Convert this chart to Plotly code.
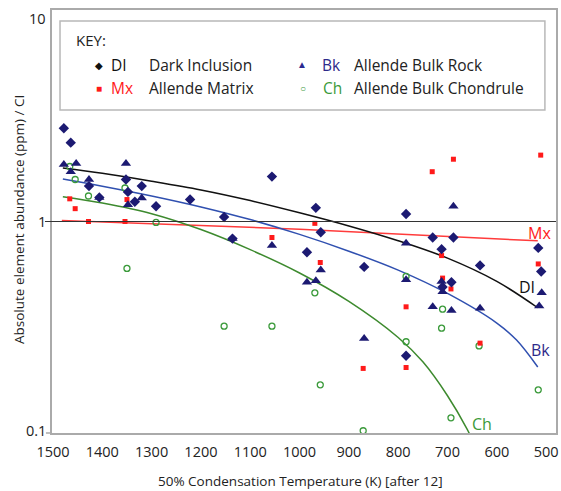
import plotly.graph_objects as go
import math

# ---------------- data ----------------
# Dark Inclusion (DI)
di_T = [1478, 1464, 1427, 1406, 1352, 1348, 1334, 1320, 1291, 1222, 1153, 1136, 1056,
        985, 967, 957, 869, 784, 784, 730, 712, 710, 692, 688, 634, 516, 510]
di_v = [2.76, 2.36, 1.47, 1.30, 1.58, 1.38, 1.24, 1.47, 1.18, 1.27, 1.05, 0.83, 1.63,
        0.715, 1.16, 0.89, 0.61, 1.085, 0.232, 0.84, 0.74, 0.49, 0.516, 0.84, 0.62, 0.75, 0.58]

# Allende Bulk Rock (Bk)
bk_T = [1478, 1453, 1464, 1427, 1406, 1352, 1348, 1320, 1136, 1056, 985, 967, 957, 869,
        784, 784, 730, 712, 710, 692, 688, 634, 514, 509]
bk_v = [1.86, 1.88, 1.72, 1.58, 1.30, 1.88, 1.20, 1.29, 0.83, 0.77, 0.516, 0.525, 0.59, 0.28,
        0.79, 0.53, 0.395, 0.52, 0.466, 0.379, 1.18, 0.389, 0.398, 0.46]

# Allende Matrix (Mx)
mx_T = [1466, 1455, 1428, 1354, 1350, 1056, 969, 958, 871, 784, 784, 731, 712, 710, 693,
        688, 634, 516, 511]
mx_v = [1.28, 1.15, 1.0, 1.0, 1.27, 0.84, 0.98, 0.64, 0.202, 0.395, 0.204, 1.72, 0.69, 0.54,
        0.48, 1.97, 0.266, 0.63, 2.06]

# Allende Bulk Chondrule (Ch)
ch_T = [1466, 1455, 1428, 1354, 1291, 1350, 1153, 1056, 969, 958, 871, 784, 784, 712, 710,
        693, 636, 516]
ch_v = [1.82, 1.58, 1.32, 1.44, 0.99, 0.60, 0.32, 0.32, 0.46, 0.169, 0.1025, 0.55, 0.27,
        0.313, 0.385, 0.118, 0.258, 0.16]

# Trend curves
di_fit_T = [1480, 1400, 1300, 1200, 1100, 1000, 900, 800, 700, 600, 517]
di_fit_v = [1.79, 1.69, 1.55, 1.41, 1.256, 1.10, 0.953, 0.811, 0.671, 0.521, 0.391]
bk_fit_T = [1480, 1400, 1300, 1200, 1100, 1000, 900, 800, 700, 600, 560, 517]
bk_fit_v = [1.589, 1.469, 1.321, 1.172, 1.021, 0.869, 0.724, 0.589, 0.457, 0.331, 0.275, 0.205]
ch_fit_T = [1480, 1400, 1300, 1200, 1100, 1000, 900, 800, 750, 700, 660, 640]
ch_fit_v = [1.309, 1.222, 1.089, 0.916, 0.736, 0.571, 0.419, 0.283, 0.217, 0.150, 0.104, 0.083]
mx_fit_T = [1482, 1000, 517]
mx_fit_v = [1.01, 0.92, 0.81]

x_ticks = [1500, 1400, 1300, 1200, 1100, 1000, 900, 800, 700, 600, 500]
y_tick_vals = [10, 1, 0.1]
y_tick_text = ["10", "1", "0.1"]

x_title = "50% Condensation Temperature (K) [after 12]"
y_title = "Absolute element abundance (ppm) / CI"

NAVY = "#1c1a72"
RED = "#ff1a1a"
GREEN = "#3a9a3a"
FONT = "Open Sans"

fig = go.Figure()

# curves
fig.add_trace(go.Scatter(x=mx_fit_T, y=mx_fit_v, mode="lines", line=dict(color="#ff3b3b", width=1.5, shape="spline")))
fig.add_trace(go.Scatter(x=ch_fit_T, y=ch_fit_v, mode="lines", line=dict(color="#3d8a2e", width=1.5, shape="spline")))
fig.add_trace(go.Scatter(x=bk_fit_T, y=bk_fit_v, mode="lines", line=dict(color="#3050b0", width=1.5, shape="spline")))
fig.add_trace(go.Scatter(x=di_fit_T, y=di_fit_v, mode="lines", line=dict(color="#111111", width=1.5, shape="spline")))

# points
fig.add_trace(go.Scatter(x=ch_T, y=ch_v, mode="markers", cliponaxis=False,
                         marker=dict(symbol="circle-open", size=6, color=GREEN, line=dict(width=1.3))))
fig.add_trace(go.Scatter(x=mx_T, y=mx_v, mode="markers",
                         marker=dict(symbol="square", size=5, color=RED)))
fig.add_trace(go.Scatter(x=bk_T, y=bk_v, mode="markers",
                         marker=dict(symbol="triangle-up", size=9, color=NAVY)))
fig.add_trace(go.Scatter(x=di_T, y=di_v, mode="markers",
                         marker=dict(symbol="diamond", size=8, color=NAVY)))

shapes = [
    # horizontal reference line at 1 (extends past the axis like a tick)
    dict(type="line", xref="paper", yref="paper", x0=-0.014, x1=1, y0=0.5, y1=0.5,
         line=dict(color="#333333", width=1.2)),
    # key box
    dict(type="rect", xref="paper", yref="paper", x0=0.0159, x1=0.978, y0=0.7636, y1=0.974,
         fillcolor="white", line=dict(color="#b8b8b8", width=1.5), layer="above"),
    dict(type="line", xref="paper", yref="paper", x0=-0.012, x1=0, y0=0, y1=0,
         line=dict(color="#aaaaaa", width=1.5)),
]

ann = []
# y tick labels
yshift = {"10": -8, "1": 0, "0.1": 3}
for v, t in zip(y_tick_vals, y_tick_text):
    ann.append(dict(x=0, y=(math.log10(v) + 1) / 2, xref="paper", yref="paper", text=t,
                    showarrow=False, xanchor="right", yanchor="middle", xshift=-4, yshift=yshift[t],
                    font=dict(family=FONT, size=14.5, color="#222222")))

# axis titles
ann.append(dict(x=(300 - 52) / 504, y=-(481 - 433) / 423, xref="paper", yref="paper", text=x_title,
                showarrow=False, xanchor="center", yanchor="middle",
                font=dict(family=FONT, size=13.5, color="#222222")))
ann.append(dict(x=-(52 - 19) / 504, y=(433 - 220) / 423, xref="paper", yref="paper", text=y_title,
                showarrow=False, xanchor="center", yanchor="middle", textangle=-90,
                font=dict(family=FONT, size=13.5, color="#222222")))

def note(x, y, text, color="#222222", size=15.5, anchor="left"):
    ann.append(dict(x=x, y=y, xref="paper", yref="paper", text=text, showarrow=False,
                    xanchor=anchor, yanchor="middle",
                    font=dict(family=FONT, size=size, color=color)))

note(0.044, 0.929, "KEY:", size=15)
r1, r2 = 0.870, 0.8156
note(0.0933, r1, "◆", color="#111111", size=10, anchor="center")
note(0.113, r1, "DI", color="#111111")
note(0.188, r1, "Dark Inclusion")
note(0.496, r1 + 0.003, "▲", color="#2a2a90", size=10, anchor="center")
note(0.531, r1, "Bk", color="#2e2a8a")
note(0.595, r1, "Allende Bulk Rock")
note(0.0933, r2, "■", color=RED, size=10, anchor="center")
note(0.113, r2, "Mx", color=RED)
note(0.188, r2, "Allende Matrix")
note(0.498, r2, "○", color=GREEN, size=10, anchor="center")
note(0.533, r2, "Ch", color=GREEN)
note(0.595, r2, "Allende Bulk Chondrule")

# curve labels
for x, y, t, c in [(514, -0.054, "Mx", RED), (539, -0.31, "DI", "#111111"),
                   (512, -0.608, "Bk", "#2e2a8a"), (630, -0.957, "Ch", GREEN)]:
    ann.append(dict(x=x, y=y, xref="x", yref="y", text=t, showarrow=False,
                    xanchor="center", yanchor="middle", font=dict(family=FONT, size=16, color=c)))

fig.update_layout(
    width=561, height=491,
    margin=dict(l=52, r=5, t=10, b=58),
    paper_bgcolor="white", plot_bgcolor="white",
    showlegend=False,
    shapes=shapes, annotations=ann,
    font=dict(family=FONT, size=14, color="#222222"),
    xaxis=dict(range=[1502, 480], tickvals=x_ticks, ticks="", showgrid=False, zeroline=False,
               showline=True, mirror=True, linecolor="#aaaaaa", linewidth=1.5,
               ticklabelstandoff=5, automargin=False,
               tickfont=dict(family=FONT, size=14.5, color="#222222")),
    yaxis=dict(type="log", range=[-1, 1], showticklabels=False, ticks="", showgrid=False,
               zeroline=False, showline=True, mirror=True, linecolor="#aaaaaa", linewidth=1.5,
               automargin=False),
)

fig.write_html("out.html", config={"displayModeBar": False},
               post_script="document.body.style.margin='0';document.body.style.overflow='hidden';")
